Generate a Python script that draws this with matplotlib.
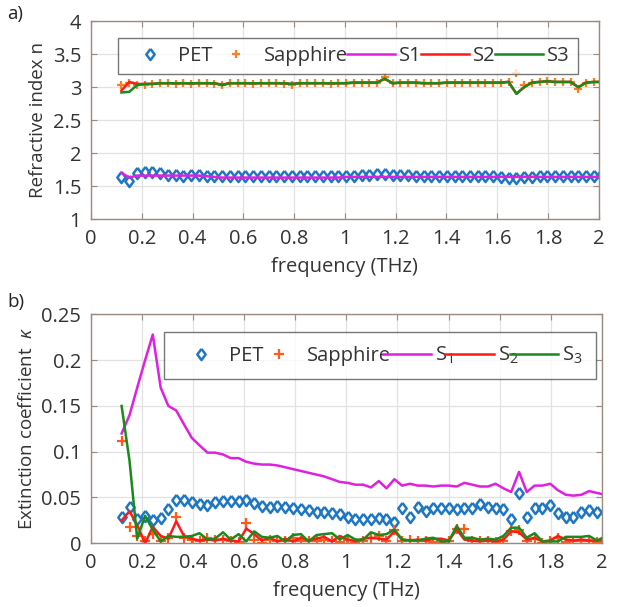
import matplotlib
matplotlib.use('Agg')
import matplotlib.pyplot as plt
from matplotlib.ticker import FormatStrFormatter

plt.rcParams['font.family'] = ['Open Sans', 'DejaVu Sans']
plt.rcParams['mathtext.fontset'] = 'custom'
plt.rcParams['mathtext.rm'] = 'Open Sans'
plt.rcParams['mathtext.it'] = 'Open Sans:italic'

# frequency grid (THz)
freq = [0.120, 0.151, 0.181, 0.212, 0.242, 0.273, 0.303, 0.334, 0.364, 0.395,
        0.425, 0.456, 0.486, 0.517, 0.547, 0.578, 0.608, 0.639, 0.669, 0.700,
        0.730, 0.761, 0.791, 0.822, 0.852, 0.883, 0.913, 0.944, 0.974, 1.005,
        1.035, 1.066, 1.096, 1.127, 1.157, 1.188, 1.218, 1.249, 1.279, 1.310,
        1.340, 1.371, 1.401, 1.432, 1.462, 1.493, 1.523, 1.554, 1.584, 1.615,
        1.645, 1.676, 1.706, 1.737, 1.767, 1.798, 1.828, 1.859, 1.889, 1.920,
        1.950, 1.981, 2.011]

# refractive index n
n_pet = [1.64, 1.58, 1.70, 1.72, 1.72, 1.70, 1.67, 1.67, 1.66, 1.67,
         1.67, 1.66, 1.66, 1.65, 1.65, 1.65, 1.65, 1.65, 1.65, 1.65,
         1.65, 1.65, 1.65, 1.65, 1.65, 1.65, 1.65, 1.66, 1.66, 1.66,
         1.66, 1.67, 1.67, 1.68, 1.68, 1.67, 1.67, 1.67, 1.66, 1.66,
         1.66, 1.66, 1.66, 1.66, 1.65, 1.65, 1.65, 1.65, 1.65, 1.64,
         1.63, 1.63, 1.64, 1.64, 1.65, 1.65, 1.65, 1.65, 1.66, 1.66,
         1.66, 1.66, 1.67]
n_sapph = [3.03, 3.06, 3.04, 3.04, 3.05, 3.06, 3.06, 3.05, 3.06, 3.05,
           3.06, 3.06, 3.05, 3.04, 3.06, 3.06, 3.06, 3.05, 3.06, 3.06,
           3.06, 3.05, 3.04, 3.06, 3.06, 3.06, 3.06, 3.05, 3.06, 3.06,
           3.06, 3.07, 3.07, 3.07, 3.15, 3.06, 3.07, 3.07, 3.06, 3.06,
           3.06, 3.06, 3.06, 3.07, 3.07, 3.07, 3.07, 3.07, 3.07, 3.07,
           3.08, 3.22, 3.04, 3.07, 3.08, 3.10, 3.08, 3.08, 3.08, 2.98,
           3.06, 3.08, 3.08]
n_s1 = [1.70, 1.63, 1.66, 1.66, 1.66, 1.66, 1.66, 1.66, 1.66, 1.66,
        1.66, 1.65, 1.64, 1.63, 1.63, 1.63, 1.63, 1.63, 1.63, 1.63,
        1.63, 1.63, 1.63, 1.63, 1.63, 1.63, 1.63, 1.63, 1.63, 1.64,
        1.64, 1.64, 1.64, 1.64, 1.64, 1.64, 1.64, 1.64, 1.64, 1.64,
        1.64, 1.64, 1.64, 1.64, 1.64, 1.64, 1.64, 1.64, 1.64, 1.64,
        1.64, 1.64, 1.64, 1.64, 1.64, 1.64, 1.64, 1.64, 1.64, 1.64,
        1.64, 1.64, 1.64]
n_s2 = [2.95, 3.08, 3.05, 3.05, 3.05, 3.06, 3.06, 3.06, 3.06, 3.06,
        3.06, 3.06, 3.06, 3.04, 3.06, 3.06, 3.06, 3.06, 3.06, 3.06,
        3.06, 3.06, 3.05, 3.06, 3.06, 3.06, 3.06, 3.06, 3.06, 3.06,
        3.07, 3.07, 3.07, 3.07, 3.13, 3.06, 3.07, 3.07, 3.07, 3.06,
        3.06, 3.06, 3.07, 3.07, 3.07, 3.07, 3.07, 3.07, 3.07, 3.07,
        3.08, 2.90, 3.00, 3.07, 3.08, 3.09, 3.08, 3.08, 3.08, 3.00,
        3.07, 3.08, 3.08]
n_s3 = [2.92, 2.93, 3.03, 3.05, 3.05, 3.06, 3.06, 3.06, 3.06, 3.06,
        3.06, 3.06, 3.06, 3.03, 3.06, 3.06, 3.06, 3.06, 3.06, 3.06,
        3.06, 3.06, 3.05, 3.06, 3.06, 3.06, 3.06, 3.06, 3.06, 3.06,
        3.07, 3.07, 3.07, 3.07, 3.13, 3.06, 3.07, 3.07, 3.07, 3.06,
        3.06, 3.06, 3.07, 3.07, 3.07, 3.07, 3.07, 3.07, 3.07, 3.07,
        3.08, 2.90, 3.00, 3.07, 3.08, 3.09, 3.08, 3.08, 3.08, 3.00,
        3.07, 3.08, 3.08]

# extinction coefficient kappa
k_pet = [0.029, 0.040, 0.026, 0.030, 0.025, 0.028, 0.037, 0.047, 0.047, 0.045,
         0.043, 0.042, 0.045, 0.046, 0.046, 0.046, 0.047, 0.044, 0.041, 0.040,
         0.041, 0.040, 0.038, 0.037, 0.036, 0.034, 0.034, 0.033, 0.032, 0.029,
         0.027, 0.027, 0.027, 0.028, 0.026, 0.023, 0.038, 0.029, 0.040, 0.035,
         0.039, 0.038, 0.038, 0.037, 0.039, 0.039, 0.043, 0.040, 0.039, 0.037,
         0.027, 0.055, 0.029, 0.038, 0.038, 0.042, 0.033, 0.029, 0.029, 0.034,
         0.036, 0.034, 0.034]
k_sapph = [0.112, 0.018, 0.008, 0.003, 0.010, 0.003, 0.006, 0.029, 0.006, 0.004,
           0.002, 0.006, 0.004, 0.004, 0.002, 0.001, 0.022, 0.004, 0.000, 0.004,
           0.002, 0.002, 0.006, 0.002, 0.003, 0.003, 0.004, 0.002, 0.001, 0.004,
           0.000, 0.002, 0.006, 0.008, 0.003, 0.014, 0.003, 0.004, 0.002, 0.002,
           0.001, 0.000, 0.002, 0.016, 0.016, 0.002, 0.002, 0.003, 0.001, 0.003,
           0.013, 0.014, 0.003, 0.005, 0.000, 0.002, 0.006, 0.001, 0.002, 0.002,
           0.003, 0.001, 0.003]
k_s1 = [0.120, 0.140, 0.170, 0.200, 0.228, 0.170, 0.150, 0.145, 0.130, 0.115,
        0.107, 0.099, 0.099, 0.097, 0.093, 0.093, 0.089, 0.087, 0.086, 0.086,
        0.085, 0.083, 0.081, 0.079, 0.077, 0.075, 0.073, 0.070, 0.067, 0.066,
        0.064, 0.064, 0.061, 0.068, 0.060, 0.070, 0.063, 0.065, 0.063, 0.063,
        0.062, 0.063, 0.063, 0.062, 0.066, 0.064, 0.062, 0.062, 0.065, 0.060,
        0.056, 0.078, 0.056, 0.063, 0.063, 0.065, 0.058, 0.053, 0.052, 0.053,
        0.057, 0.055, 0.053]
k_s2 = [0.025, 0.035, 0.020, 0.000, 0.018, 0.008, 0.005, 0.024, 0.008, 0.005,
        0.003, 0.004, 0.003, 0.005, 0.003, 0.002, 0.016, 0.010, 0.003, 0.006,
        0.002, 0.005, 0.002, 0.006, 0.003, 0.005, 0.007, 0.002, 0.008, 0.004,
        0.002, 0.005, 0.006, 0.005, 0.004, 0.013, 0.004, 0.003, 0.004, 0.003,
        0.005, 0.005, 0.003, 0.015, 0.004, 0.003, 0.002, 0.003, 0.002, 0.004,
        0.013, 0.012, 0.004, 0.006, 0.002, 0.003, 0.008, 0.004, 0.003, 0.004,
        0.003, 0.003, 0.004]
k_s3 = [0.150, 0.090, 0.005, 0.030, 0.015, 0.002, 0.008, 0.007, 0.007, 0.008,
        0.011, 0.004, 0.005, 0.012, 0.004, 0.010, 0.002, 0.013, 0.007, 0.006,
        0.008, 0.002, 0.009, 0.010, 0.002, 0.009, 0.010, 0.011, 0.004, 0.009,
        0.004, 0.004, 0.012, 0.009, 0.010, 0.015, 0.004, 0.003, 0.003, 0.005,
        0.006, 0.002, 0.002, 0.019, 0.006, 0.006, 0.004, 0.005, 0.004, 0.008,
        0.017, 0.017, 0.006, 0.011, 0.002, 0.002, 0.002, 0.007, 0.007, 0.007,
        0.008, 0.003, 0.007]

c_pet = '#1f77c4'
c_sapph = '#ff7f1e'
c_sapph2 = '#ff5a1a'
c_s1 = '#e020e0'
c_s2 = '#ff1a1a'
c_s3 = '#1a8a1a'
txt = '#333333'
frame = '#9a8a80'
# MATLAB-like diamond (a bit narrower than tall)
diamond = [(0, 1), (0.75, 0), (0, -1), (-0.75, 0), (0, 1)]

fig = plt.figure(figsize=(6.23, 6.07), dpi=100)
ax1 = fig.add_axes([0.146, 0.639, 0.815, 0.326])
ax2 = fig.add_axes([0.146, 0.105, 0.820, 0.377])


def style(ax):
    ax.set_xlim(0, 2)
    ax.set_xticks([0, 0.2, 0.4, 0.6, 0.8, 1, 1.2, 1.4, 1.6, 1.8, 2])
    ax.xaxis.set_major_formatter(FormatStrFormatter('%g'))
    ax.yaxis.set_major_formatter(FormatStrFormatter('%g'))
    ax.grid(True, color='#e2e2e2', lw=0.9)
    ax.set_axisbelow(True)
    ax.tick_params(direction='in', length=4, top=True, right=True,
                   labelsize=14.5, colors=frame, labelcolor=txt, pad=7)
    for s in ax.spines.values():
        s.set_color(frame)
        s.set_linewidth(1.0)
    ax.set_xlabel('frequency (THz)', fontsize=14.5, color=txt, labelpad=6)


# a) refractive index
ax1.plot(freq, n_pet, ls='none', marker=diamond, ms=8, mfc='none', mec=c_pet, mew=1.8, label='PET')
ax1.plot(freq, n_sapph, ls='none', marker='+', ms=6, mec=c_sapph, mew=1.6, label='Sapphire')
ax1.plot(freq, n_s1, color=c_s1, lw=1.8, label='S1')
ax1.plot(freq, n_s2, color=c_s2, lw=1.8, label='S2')
ax1.plot(freq, n_s3, color=c_s3, lw=1.8, label='S3')
ax1.set_ylim(1, 4)
ax1.set_yticks([1, 1.5, 2, 2.5, 3, 3.5, 4])
style(ax1)
ax1.set_ylabel('Refractive index n', fontsize=13.5, color=txt, labelpad=4)
leg1 = ax1.legend(loc='upper left', bbox_to_anchor=(0.053, 0.915, 0.906, 0.0), mode='expand',
                  ncol=5, fontsize=14.5, frameon=True, fancybox=False, handlelength=2.4,
                  handletextpad=0.2, columnspacing=0.5, borderpad=0.4, borderaxespad=0)
leg1.get_frame().set_edgecolor('#555555')
leg1.get_frame().set_linewidth(1.0)
for t in leg1.get_texts():
    t.set_color(txt)

# b) extinction coefficient
ax2.plot(freq, k_pet, ls='none', marker=diamond, ms=8, mfc='none', mec=c_pet, mew=1.8, label='PET')
ax2.plot(freq, k_sapph, ls='none', marker='+', ms=7, mec=c_sapph2, mew=1.6, label='Sapphire')
ax2.plot(freq, k_s1, color=c_s1, lw=1.8, label='S$_1$')
ax2.plot(freq, k_s2, color=c_s2, lw=1.8, label='S$_2$')
ax2.plot(freq, k_s3, color=c_s3, lw=1.8, label='S$_3$')
ax2.set_ylim(0, 0.25)
ax2.set_yticks([0, 0.05, 0.1, 0.15, 0.2, 0.25])
style(ax2)
ax2.set_ylabel(r'Extinction coefficient  $\kappa$', fontsize=13.5, color=txt, labelpad=4)
leg2 = ax2.legend(loc='upper left', bbox_to_anchor=(0.142, 0.925, 0.846, 0.0), mode='expand',
                  ncol=5, fontsize=14.5, frameon=True, fancybox=False, handlelength=2.4,
                  handletextpad=0.2, columnspacing=0.5, borderpad=0.65, borderaxespad=0)
leg2.get_frame().set_edgecolor('#555555')
leg2.get_frame().set_linewidth(1.0)
for t in leg2.get_texts():
    t.set_color(txt)

fig.text(0.012, 0.977, 'a)', fontsize=13.5, color='#222222', va='center')
fig.text(0.012, 0.503, 'b)', fontsize=13.5, color='#222222', va='center')

fig.savefig('out.png', dpi=100, facecolor='white')
